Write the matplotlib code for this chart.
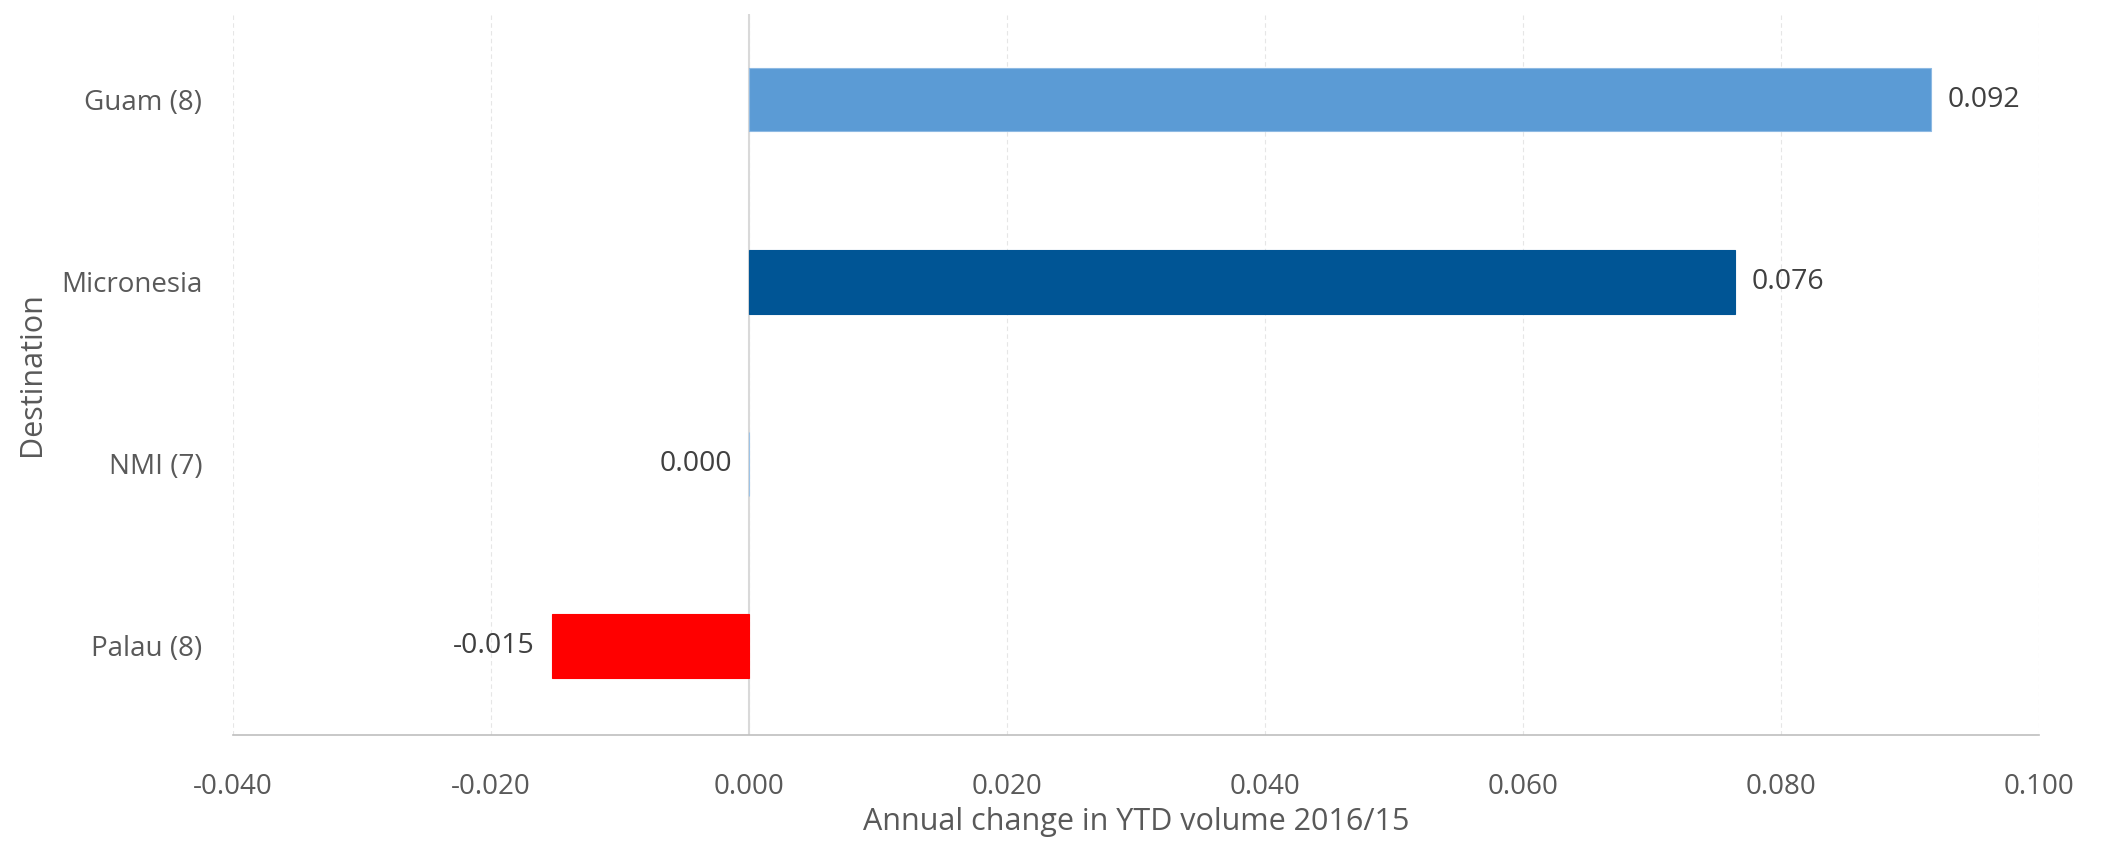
import matplotlib.pyplot as plt
import numpy as np

plt.rcParams['font.family'] = ['Open Sans', 'DejaVu Sans']

destinations = ['Palau (8)', 'NMI (7)', 'Micronesia', 'Guam (8)']
change = [-0.0153, 0.0, 0.0764, 0.0916]
colors = ['#FF0000', '#9DC3E6', '#005595', '#5B9BD5']
edges = ['#FF0000', '#9DC3E6', '#005595', '#8DB9E3']
xticks = [-0.04, -0.02, 0.0, 0.02, 0.04, 0.06, 0.08, 0.10]

fig = plt.figure(figsize=(21.08, 8.47), dpi=100)
ax = fig.add_axes([0.1105, 0.1322, 0.8568, 0.8513])

y = np.arange(len(destinations))
ax.barh(y, change, height=0.35, color=colors, edgecolor=edges, linewidth=0.8, zorder=3)

for yi, v in zip(y, change):
    if v > 0:
        ax.annotate(f'{v:.3f}', (v, yi), xytext=(12, 0), textcoords='offset points',
                    ha='left', va='center', fontsize=20.5, color='#404040')
    else:
        ax.annotate(f'{v:.3f}', (v, yi), xytext=(-12, 0), textcoords='offset points',
                    ha='right', va='center', fontsize=20.5, color='#404040')

ax.set_xlim(-0.04, 0.10)
ax.set_ylim(-0.49, 3.47)
ax.set_xticks(xticks)
ax.set_xticklabels([f'{t:.3f}' for t in xticks])
ax.set_yticks(y)
ax.set_yticklabels(destinations)

ax.grid(axis='x', color='#e6e6e6', linestyle=(0, (4, 3)), linewidth=0.8, zorder=0)
ax.axvline(0, color='#d9d9d9', linewidth=1.5, zorder=2)

for s in ['top', 'right', 'left']:
    ax.spines[s].set_visible(False)
ax.spines['bottom'].set_color('#bfbfbf')
ax.spines['bottom'].set_linewidth(1.2)

ax.tick_params(axis='x', length=0, pad=27, labelsize=20, labelcolor='#595959')
ax.tick_params(axis='y', length=0, pad=22, labelsize=20, labelcolor='#595959')

ax.set_xlabel('Annual change in YTD volume 2016/15', fontsize=22, color='#595959', labelpad=5)
ax.set_ylabel('Destination', fontsize=22, color='#595959', labelpad=10)

fig.savefig('out.png', dpi=100)
